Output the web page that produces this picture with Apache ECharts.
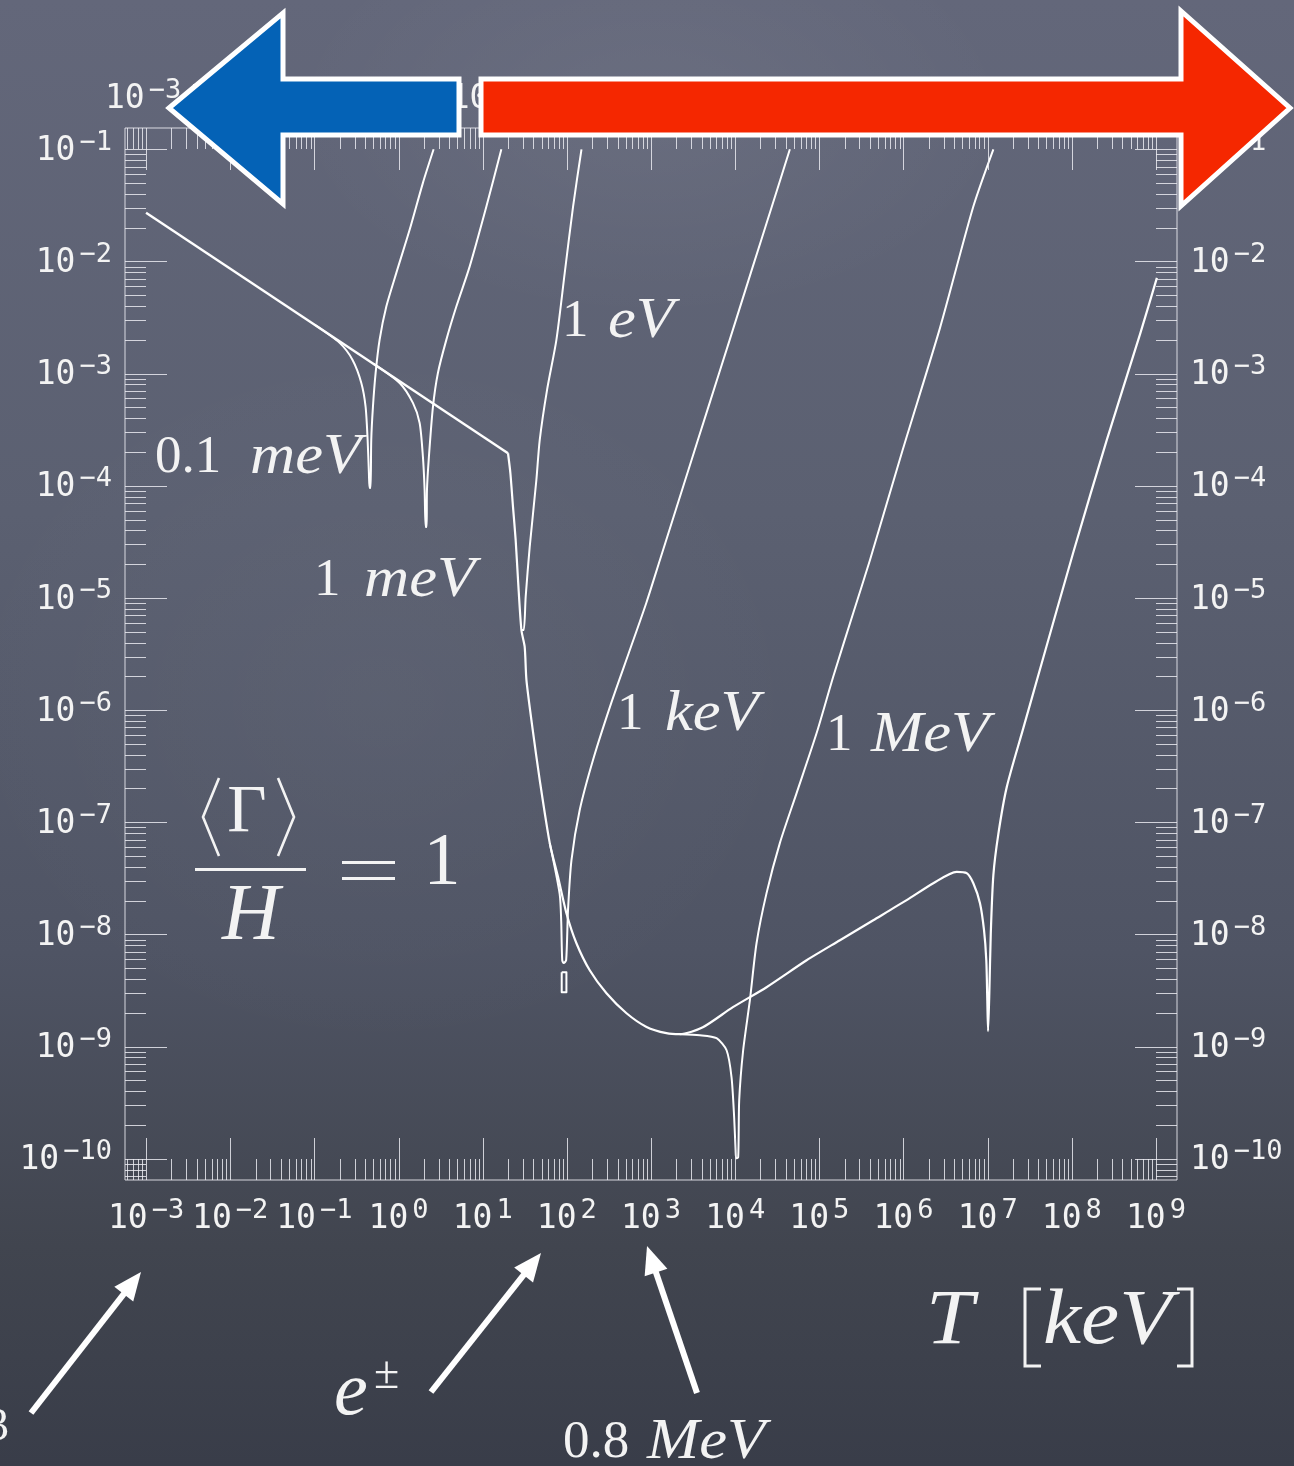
<!DOCTYPE html>
<html>
<head>
<meta charset="utf-8">
<script src="https://cdn.jsdelivr.net/npm/echarts@6/dist/echarts.min.js"></script>
<style>
  html, body { margin: 0; padding: 0; }
  body {
    width: 1294px; height: 1466px; overflow: hidden;
    background:
      radial-gradient(ellipse 520px 300px at 650px 110px, rgba(255,255,255,0.05), rgba(255,255,255,0) 70%),
      radial-gradient(ellipse 620px 520px at 380px 700px, rgba(255,255,255,0.03), rgba(255,255,255,0) 70%),
      linear-gradient(180deg, #63677a 0%, #5b6071 35%, #4f5464 65%, #41454f 85%, #393d49 100%);
  }
  #chart { width: 1294px; height: 1466px; }
</style>
</head>
<body>
<div id="chart"></div>
<script>
// ---- axis decades (exponents of the major ticks) ----
const xTickExp = [-3, -2, -1, 0, 1, 2, 3, 4, 5, 6, 7, 8, 9];
const yTickExp = [-10, -9, -8, -7, -6, -5, -4, -3, -2, -1];

// ---- curves: pairs of [log10(T / keV), log10(coupling)] ----
// low-temperature power law, straight on log-log axes, up to the e± knee
const baseLine = [[-3.0, -1.565], [1.301, -3.710]];
// from the knee: e± drop, valley and the heavy-mass rise with its dip near 10^7 keV
const mainCurve = [
  [1.301, -3.710], [1.329, -3.886], [1.360, -4.186], [1.392, -4.484],
  [1.420, -4.840], [1.460, -5.286], [1.499, -5.435], [1.520, -5.732], [1.595, -6.178],
  [1.678, -6.624], [1.797, -7.186], [1.895, -7.487], [1.995, -7.811], [2.114, -8.079],
  [2.272, -8.320], [2.471, -8.525], [2.709, -8.703], [2.947, -8.825], [3.184, -8.881],
  [3.342, -8.890], [3.616, -8.828], [3.973, -8.649], [4.373, -8.471], [4.849, -8.231],
  [5.245, -8.052], [5.641, -7.874], [6.038, -7.695], [6.354, -7.544], [6.632, -7.442],
  [6.751, -7.454], [6.830, -7.544], [6.909, -7.722], [6.957, -7.963], [6.984, -8.230],
  [6.996, -8.587], [7.005, -8.863], [7.020, -8.524], [7.037, -7.998], [7.068, -7.472],
  [7.127, -7.106], [7.227, -6.687], [7.424, -6.161], [7.623, -5.634], [8.019, -4.591],
  [8.416, -3.591], [8.812, -2.646], [9.011, -2.146]
];
const curve01meV = [
  [-1.0, -2.562], [-0.700, -2.726], [-0.546, -2.878], [-0.442, -3.083], [-0.391, -3.297],
  [-0.367, -3.592], [-0.352, -3.886], [-0.344, -4.020], [-0.332, -4.020], [-0.324, -3.592],
  [-0.304, -3.297], [-0.272, -2.994], [-0.225, -2.699], [-0.145, -2.402], [-0.026, -2.102],
  [0.132, -1.718], [0.290, -1.299], [0.417, -1.0]
];
const curve1meV = [
  [-0.3, -2.911], [0.013, -3.083], [0.171, -3.261], [0.251, -3.440], [0.290, -3.743],
  [0.310, -4.037], [0.322, -4.368], [0.334, -4.368], [0.338, -4.037], [0.361, -3.743],
  [0.409, -3.297], [0.468, -2.994], [0.568, -2.699], [0.687, -2.402], [0.845, -2.046],
  [1.044, -1.510], [1.222, -1.0]
];
const curve1eV = [
  [1.460, -5.286], [1.488, -5.286], [1.511, -4.989], [1.559, -4.543], [1.638, -3.948],
  [1.678, -3.591], [1.765, -3.145], [1.876, -2.699], [1.975, -2.102], [2.074, -1.510],
  [2.174, -1.0]
];
const curve1keV = [
  [1.797, -7.186], [1.915, -7.641], [1.933, -7.882], [1.945, -8.230], [1.963, -8.256],
  [1.992, -8.230], [2.014, -7.783], [2.055, -7.337], [2.153, -6.891], [2.311, -6.445],
  [2.528, -5.936], [2.736, -5.491], [2.944, -5.045], [3.106, -4.662], [3.433, -3.886],
  [3.683, -3.294], [3.935, -2.699], [4.186, -2.102], [4.436, -1.510], [4.650, -1.0]
];
// small numerical loop just under the 1 keV dip
const keVGlitch = [
  [1.939, -8.337], [1.939, -8.515], [1.995, -8.515], [1.995, -8.337], [1.939, -8.337]
];
const curve1MeV = [
  [3.342, -8.890], [3.580, -8.899], [3.779, -8.926], [3.898, -9.033], [3.957, -9.274],
  [3.988, -9.631], [4.005, -9.925], [4.012, -9.996], [4.036, -9.987], [4.048, -9.479],
  [4.095, -9.033], [4.175, -8.587], [4.254, -8.079], [4.373, -7.632], [4.531, -7.186],
  [4.730, -6.740], [4.968, -6.205], [5.165, -5.703], [5.403, -5.135], [5.602, -4.662],
  [5.990, -3.681], [6.434, -2.592], [6.830, -1.510], [7.068, -1.0]
];

// ---- plot range (log10) ----
const X_LO = Math.pow(10, -3.25), X_HI = Math.pow(10, 9.25);
const Y_LO = Math.pow(10, -10.19), Y_HI = Math.pow(10, -0.81);

const WHITE = '#f3f3f3';
const TICK = 'rgba(238,238,244,0.82)';
const MONO = 'DejaVu Sans Mono';
const SERIF = 'Liberation Serif';

const toXY = arr => arr.map(([a, b]) => [Math.pow(10, a), Math.pow(10, b)]);

// tick values: decades plus 2..9 subdivisions inside the range
function tickList(exps, lo, hi) {
  const out = [];
  const e0 = exps[0] - 1, e1 = exps[exps.length - 1];
  for (let e = e0; e <= e1; e++) {
    for (let k = 1; k <= 9; k++) {
      const v = k * Math.pow(10, e);
      if (v >= lo && v <= hi) out.push({ v, major: k === 1 });
    }
  }
  return out;
}
const xTicks = tickList(xTickExp, X_LO, X_HI);
const yTicks = tickList(yTickExp, Y_LO, Y_HI);

const powRich = {
  m: { fontFamily: MONO, fontSize: 33, lineHeight: 44, fill: WHITE },
  e: { fontFamily: MONO, fontSize: 27, lineHeight: 27, verticalAlign: 'top', padding: [0, 0, 0, 4], fill: WHITE }
};
const powText = e => '{m|10}{e|' + (e < 0 ? '\u2212' : '') + Math.abs(e) + '}';
const crisp = v => Math.round(v) + 0.5;

const curveDefs = [
  { d: baseLine, smooth: false, w: 2.4 },
  { d: mainCurve, smooth: 0.25, w: 2.2 },
  { d: curve01meV, smooth: 0.25, w: 2 },
  { d: curve1meV, smooth: 0.25, w: 2 },
  { d: curve1eV, smooth: 0.25, w: 2 },
  { d: curve1keV, smooth: 0.25, w: 2 },
  { d: keVGlitch, smooth: false, w: 2 },
  { d: curve1MeV, smooth: 0.25, w: 2 }
];
const lineSeries = curveDefs.map((c, i) => ({
  type: 'line',
  name: 'c' + i,
  data: toXY(c.d),
  showSymbol: false,
  symbol: 'none',
  silent: true,
  animation: false,
  smooth: c.smooth,
  z: 3,
  lineStyle: { color: '#ffffff', width: c.w, join: 'round' }
}));

// tick marks on all four sides
const xTickSeries = {
  type: 'custom', silent: true, animation: false, clip: false, z: 4,
  data: xTicks.map(t => [t.v, 1e-5, t.major ? 1 : 0]),
  encode: { x: 0, y: 1 },
  renderItem: (params, api) => {
    const v = api.value(0), len = api.value(2) === 1 ? 42 : 21;
    const b = api.coord([v, Y_LO]), t = api.coord([v, Y_HI]);
    const x = crisp(b[0]);
    return { type: 'group', children: [
      { type: 'line', shape: { x1: x, y1: b[1], x2: x, y2: b[1] - len }, style: { stroke: TICK, lineWidth: 1 } },
      { type: 'line', shape: { x1: x, y1: t[1], x2: x, y2: t[1] + len }, style: { stroke: TICK, lineWidth: 1 } }
    ] };
  }
};
const yTickSeries = {
  type: 'custom', silent: true, animation: false, clip: false, z: 4,
  data: yTicks.map(t => [10, t.v, t.major ? 1 : 0]),
  encode: { x: 0, y: 1 },
  renderItem: (params, api) => {
    const v = api.value(1), len = api.value(2) === 1 ? 42 : 21;
    const l = api.coord([X_LO, v]), r = api.coord([X_HI, v]);
    const y = crisp(l[1]);
    return { type: 'group', children: [
      { type: 'line', shape: { x1: l[0], y1: y, x2: l[0] + len, y2: y }, style: { stroke: TICK, lineWidth: 1 } },
      { type: 'line', shape: { x1: r[0], y1: y, x2: r[0] - len, y2: y }, style: { stroke: TICK, lineWidth: 1 } }
    ] };
  }
};

// 10^n labels on all four sides
const xLabelSeries = {
  type: 'custom', silent: true, animation: false, clip: false, z: 4,
  data: xTickExp.map(e => [Math.pow(10, e), 1e-5, e]),
  encode: { x: 0, y: 1 },
  renderItem: (params, api) => {
    const e = api.value(2);
    const b = api.coord([api.value(0), Y_LO]), t = api.coord([api.value(0), Y_HI]);
    const mk = (x, y) => ({ type: 'text', x, y, style: {
      text: powText(e), rich: powRich, fill: WHITE,
      align: 'center', textAlign: 'center', verticalAlign: 'middle', textVerticalAlign: 'middle' } });
    return { type: 'group', children: [mk(b[0], b[1] + 39), mk(t[0] - 3, t[1] - 29)] };
  }
};
const yLabelSeries = {
  type: 'custom', silent: true, animation: false, clip: false, z: 4,
  data: yTickExp.map(e => [10, Math.pow(10, e), e]),
  encode: { x: 0, y: 1 },
  renderItem: (params, api) => {
    const e = api.value(2);
    const l = api.coord([X_LO, api.value(1)]), r = api.coord([X_HI, api.value(1)]);
    const mk = (x, y, al) => ({ type: 'text', x, y, style: {
      text: powText(e), rich: powRich, fill: WHITE,
      align: al, textAlign: al, verticalAlign: 'middle', textVerticalAlign: 'middle' } });
    return { type: 'group', children: [mk(l[0] - 13, l[1] + 2, 'right'), mk(r[0] + 13, r[1] + 2, 'left')] };
  }
};

// ---- annotations ----
function txt(x, y, text, size, opts) {
  opts = opts || {};
  return {
    type: 'text', x, y, z: 40, scaleX: opts.sx || 1,
    style: {
      text, fill: WHITE, fontFamily: SERIF, fontSize: size,
      fontStyle: opts.italic ? 'italic' : 'normal',
      align: opts.align || 'left', textAlign: opts.align || 'left',
      verticalAlign: 'middle', textVerticalAlign: 'middle'
    }
  };
}
function massLabel(numX, unitX, cy, num, unit) {
  return [
    txt(numX, cy, num, 53),
    txt(unitX, cy, unit, 58, { italic: true, sx: 1.08 })
  ];
}
function whiteArrow(tail, tip) {
  const dx = tip[0] - tail[0], dy = tip[1] - tail[1], L = Math.hypot(dx, dy);
  const ux = dx / L, uy = dy / L, nx = -uy, ny = ux;
  const hl = 28, hw = 12;
  const bx = tip[0] - ux * hl, by = tip[1] - uy * hl;
  return [
    { type: 'line', z: 40, shape: { x1: tail[0], y1: tail[1], x2: bx + ux * 3, y2: by + uy * 3 },
      style: { stroke: '#ffffff', lineWidth: 6 } },
    { type: 'polygon', z: 40, shape: { points: [tip, [bx + nx * hw, by + ny * hw], [bx - nx * hw, by - ny * hw]] },
      style: { fill: '#ffffff' } }
  ];
}
const bracketStyle = { stroke: WHITE, lineWidth: 2.6, fill: null, lineJoin: 'miter' };

const graphics = [].concat(
  // big range arrows along the top
  [{ type: 'polygon', z: 60,
     shape: { points: [[169, 108], [283, 13], [283, 79], [459, 79], [459, 135], [283, 135], [283, 204]] },
     style: { fill: '#0462b6', stroke: '#ffffff', lineWidth: 5, lineJoin: 'miter' } },
   { type: 'polygon', z: 60,
     shape: { points: [[481, 79], [1181, 79], [1181, 11], [1290, 108], [1181, 206], [1181, 135], [481, 135]] },
     style: { fill: '#f52700', stroke: '#ffffff', lineWidth: 5, lineJoin: 'miter' } }],
  // curve labels
  massLabel(155, 250, 458, '0.1', 'meV'),
  massLabel(314, 364, 581, '1', 'meV'),
  massLabel(562, 608, 322, '1', 'eV'),
  massLabel(617, 665, 715, '1', 'keV'),
  massLabel(826, 871, 736, '1', 'MeV'),
  massLabel(563, 647, 1443, '0.8', 'MeV'),
  // <Γ>/H = 1
  [{ type: 'polyline', z: 40, shape: { points: [[219, 778], [203, 817], [219, 856]] }, style: bracketStyle },
   { type: 'polyline', z: 40, shape: { points: [[278, 778], [294, 817], [278, 856]] }, style: bracketStyle },
   txt(247, 813, '\u0393', 68, { align: 'center' }),
   { type: 'rect', z: 40, shape: { x: 195, y: 868, width: 111, height: 3 }, style: { fill: WHITE } },
   txt(251, 918, 'H', 80, { italic: true, align: 'center' }),
   { type: 'rect', z: 40, shape: { x: 342, y: 861, width: 53, height: 3 }, style: { fill: WHITE } },
   { type: 'rect', z: 40, shape: { x: 342, y: 877, width: 53, height: 3 }, style: { fill: WHITE } },
   txt(442, 865, '1', 74, { align: 'center' })],
  // axis title T [keV]
  [txt(926, 1322, 'T', 78, { italic: true, sx: 1.1 }),
   { type: 'polyline', z: 40, shape: { points: [[1041, 1289], [1025, 1289], [1025, 1366], [1041, 1366]] }, style: { stroke: WHITE, lineWidth: 3, fill: null } },
   txt(1043, 1322, 'keV', 78, { italic: true, sx: 1.1 }),
   { type: 'polyline', z: 40, shape: { points: [[1177, 1289], [1192, 1289], [1192, 1366], [1177, 1366]] }, style: { stroke: WHITE, lineWidth: 3, fill: null } }],
  // e± and the pointer arrows under the axis
  [txt(334, 1394, 'e', 76, { italic: true }),
   txt(374, 1376, '\u00b1', 46),
   txt(9, 1428, '3', 46, { align: 'right' })],
  whiteArrow([31, 1413], [141, 1272]),
  whiteArrow([431, 1392], [541, 1253]),
  whiteArrow([697, 1393], [647, 1246])
);

const chart = echarts.init(document.getElementById('chart'), null, { renderer: 'canvas' });
chart.setOption({
  backgroundColor: 'transparent',
  animation: false,
  grid: {
    left: 125, top: 128, width: 1052, height: 1052,
    show: true, borderColor: 'rgba(240,240,246,0.85)', borderWidth: 1,
    backgroundColor: 'transparent', containLabel: false
  },
  xAxis: {
    type: 'log', logBase: 10, min: X_LO, max: X_HI,
    axisLine: { show: false }, axisTick: { show: false }, axisLabel: { show: false }, splitLine: { show: false }
  },
  yAxis: {
    type: 'log', logBase: 10, min: Y_LO, max: Y_HI,
    axisLine: { show: false }, axisTick: { show: false }, axisLabel: { show: false }, splitLine: { show: false }
  },
  series: lineSeries.concat([xTickSeries, yTickSeries, xLabelSeries, yLabelSeries]),
  graphic: { elements: graphics }
});
</script>
</body>
</html>
